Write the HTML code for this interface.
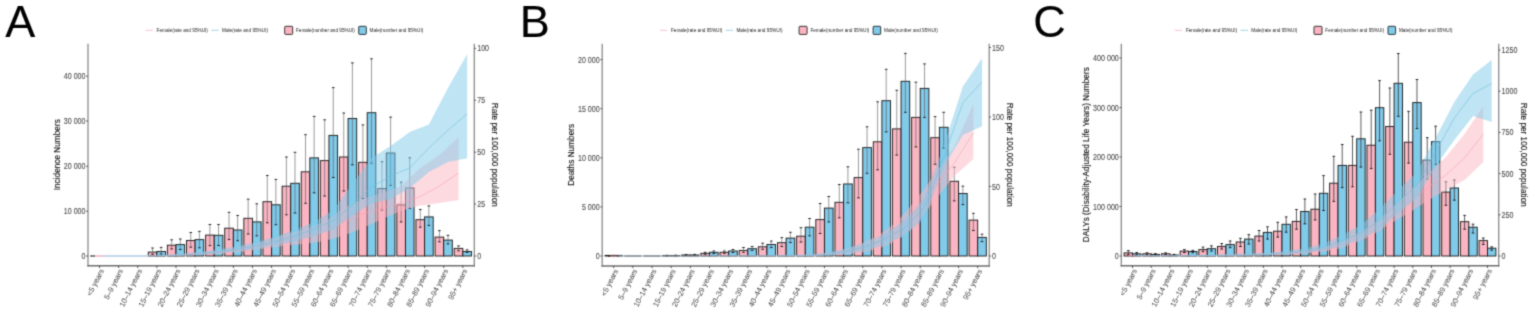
<!DOCTYPE html>
<html><head><meta charset="utf-8"><title>Incidence, deaths and DALYs by age and sex</title>
<style>
html,body{margin:0;padding:0;background:#fff;}
body{width:1535px;height:325px;overflow:hidden;}
svg{display:block;font-family:'Liberation Sans', sans-serif;}
#wrap{width:1535px;height:325px;}
.big{fill:#000;stroke:#000;stroke-width:0.12px;}
.lg{fill:#1a1a1a;}
.tk{fill:#4a4a4a;stroke:#4a4a4a;stroke-width:0.1px;}
.xl{fill:#4d4d4d;stroke:#4d4d4d;stroke-width:0.04px;}
.tt{fill:#111;stroke:#111;stroke-width:0.12px;}
</style></head>
<body>
<div id="wrap">
<svg width="1535" height="325" viewBox="0 0 1535 325">
<defs><filter id="soft" x="0" y="0" width="1" height="1" filterUnits="objectBoundingBox" color-interpolation-filters="sRGB"><feConvolveMatrix order="3" kernelMatrix="0.0277 0.1110 0.0277 0.1110 0.4452 0.1110 0.0277 0.1110 0.0277" edgeMode="duplicate"/></filter></defs>
<g filter="url(#soft)">
<rect width="1535" height="325" fill="#fff"/>
<text class="big" x="5.3" y="37.4" font-size="45">A</text>
<line x1="145.5" x2="152.7" y1="30.3" y2="30.3" stroke="#F7A1B1" stroke-width="0.65"/>
<line x1="211.3" x2="218.8" y1="30.3" y2="30.3" stroke="#6FBFDD" stroke-width="0.65"/>
<rect x="284.7" y="26.3" width="8" height="8.1" rx="0.8" fill="#FBB5C2" stroke="#222" stroke-width="0.9"/>
<rect x="358.7" y="26.3" width="7.6" height="8.1" rx="0.8" fill="#80CAEA" stroke="#222" stroke-width="0.9"/>
<text class="lg" x="156.6" y="32.3" font-size="5.6" textLength="51.3" lengthAdjust="spacingAndGlyphs">Female(rate and 95%UI)</text>
<text class="lg" x="222" y="32.3" font-size="5.6" textLength="46.1" lengthAdjust="spacingAndGlyphs">Male(rate and 95%UI)</text>
<text class="lg" x="296" y="32.3" font-size="5.6" textLength="58.9" lengthAdjust="spacingAndGlyphs">Female(number and 95%UI)</text>
<text class="lg" x="369.6" y="32.3" font-size="5.6" textLength="53.7" lengthAdjust="spacingAndGlyphs">Male(number and 95%UI)</text>
<line x1="90.27" x2="95.17" y1="256" y2="256" stroke="#5a4550" stroke-width="1.4"/>
<rect x="148.24" y="252.1" width="8.61" height="3.9" fill="#FBB5C2" stroke="#1e1e1e" stroke-width="0.95"/>
<rect x="156.85" y="251.5" width="8.61" height="4.5" fill="#80CAEA" stroke="#1e1e1e" stroke-width="0.95"/>
<rect x="167.36" y="245.2" width="8.61" height="10.8" fill="#FBB5C2" stroke="#1e1e1e" stroke-width="0.95"/>
<rect x="175.97" y="244.6" width="8.61" height="11.4" fill="#80CAEA" stroke="#1e1e1e" stroke-width="0.95"/>
<rect x="186.49" y="240.5" width="8.61" height="15.5" fill="#FBB5C2" stroke="#1e1e1e" stroke-width="0.95"/>
<rect x="195.09" y="239.6" width="8.61" height="16.4" fill="#80CAEA" stroke="#1e1e1e" stroke-width="0.95"/>
<rect x="205.61" y="235.1" width="8.61" height="20.9" fill="#FBB5C2" stroke="#1e1e1e" stroke-width="0.95"/>
<rect x="214.22" y="235.3" width="8.61" height="20.7" fill="#80CAEA" stroke="#1e1e1e" stroke-width="0.95"/>
<rect x="224.73" y="228.2" width="8.61" height="27.8" fill="#FBB5C2" stroke="#1e1e1e" stroke-width="0.95"/>
<rect x="233.34" y="230" width="8.61" height="26" fill="#80CAEA" stroke="#1e1e1e" stroke-width="0.95"/>
<rect x="243.86" y="218.3" width="8.61" height="37.7" fill="#FBB5C2" stroke="#1e1e1e" stroke-width="0.95"/>
<rect x="252.46" y="221.9" width="8.61" height="34.1" fill="#80CAEA" stroke="#1e1e1e" stroke-width="0.95"/>
<rect x="262.98" y="201.7" width="8.61" height="54.3" fill="#FBB5C2" stroke="#1e1e1e" stroke-width="0.95"/>
<rect x="271.59" y="204.8" width="8.61" height="51.2" fill="#80CAEA" stroke="#1e1e1e" stroke-width="0.95"/>
<rect x="282.11" y="186.2" width="8.61" height="69.8" fill="#FBB5C2" stroke="#1e1e1e" stroke-width="0.95"/>
<rect x="290.71" y="183.3" width="8.61" height="72.7" fill="#80CAEA" stroke="#1e1e1e" stroke-width="0.95"/>
<rect x="301.23" y="171.8" width="8.61" height="84.2" fill="#FBB5C2" stroke="#1e1e1e" stroke-width="0.95"/>
<rect x="309.84" y="157.9" width="8.61" height="98.1" fill="#80CAEA" stroke="#1e1e1e" stroke-width="0.95"/>
<rect x="320.35" y="160.6" width="8.61" height="95.4" fill="#FBB5C2" stroke="#1e1e1e" stroke-width="0.95"/>
<rect x="328.96" y="135.4" width="8.61" height="120.6" fill="#80CAEA" stroke="#1e1e1e" stroke-width="0.95"/>
<rect x="339.48" y="157" width="8.61" height="99" fill="#FBB5C2" stroke="#1e1e1e" stroke-width="0.95"/>
<rect x="348.08" y="118.5" width="8.61" height="137.5" fill="#80CAEA" stroke="#1e1e1e" stroke-width="0.95"/>
<rect x="358.6" y="162.3" width="8.61" height="93.7" fill="#FBB5C2" stroke="#1e1e1e" stroke-width="0.95"/>
<rect x="367.21" y="112.7" width="8.61" height="143.3" fill="#80CAEA" stroke="#1e1e1e" stroke-width="0.95"/>
<rect x="377.73" y="188.6" width="8.61" height="67.4" fill="#FBB5C2" stroke="#1e1e1e" stroke-width="0.95"/>
<rect x="386.33" y="153" width="8.61" height="103" fill="#80CAEA" stroke="#1e1e1e" stroke-width="0.95"/>
<rect x="396.85" y="204.9" width="8.61" height="51.1" fill="#FBB5C2" stroke="#1e1e1e" stroke-width="0.95"/>
<rect x="405.45" y="187.9" width="8.61" height="68.1" fill="#80CAEA" stroke="#1e1e1e" stroke-width="0.95"/>
<rect x="415.97" y="219.7" width="8.61" height="36.3" fill="#FBB5C2" stroke="#1e1e1e" stroke-width="0.95"/>
<rect x="424.58" y="216.9" width="8.61" height="39.1" fill="#80CAEA" stroke="#1e1e1e" stroke-width="0.95"/>
<rect x="435.1" y="237.1" width="8.61" height="18.9" fill="#FBB5C2" stroke="#1e1e1e" stroke-width="0.95"/>
<rect x="443.7" y="240.1" width="8.61" height="15.9" fill="#80CAEA" stroke="#1e1e1e" stroke-width="0.95"/>
<rect x="454.22" y="248.4" width="8.61" height="7.6" fill="#FBB5C2" stroke="#1e1e1e" stroke-width="0.95"/>
<rect x="462.83" y="251.5" width="8.61" height="4.5" fill="#80CAEA" stroke="#1e1e1e" stroke-width="0.95"/>
<path d="M152.54 248V254.3" stroke="#555" stroke-width="0.6" fill="none"/>
<path d="M151.24 248H153.84M151.24 254.3H153.84" stroke="#111" stroke-width="0.9" fill="none"/>
<path d="M161.15 247.4V254" stroke="#555" stroke-width="0.6" fill="none"/>
<path d="M159.85 247.4H162.45M159.85 254H162.45" stroke="#111" stroke-width="0.9" fill="none"/>
<path d="M171.67 239.8V248.9" stroke="#555" stroke-width="0.6" fill="none"/>
<path d="M170.37 239.8H172.97M170.37 248.9H172.97" stroke="#111" stroke-width="0.9" fill="none"/>
<path d="M180.27 239V249.5" stroke="#555" stroke-width="0.6" fill="none"/>
<path d="M178.97 239H181.57M178.97 249.5H181.57" stroke="#111" stroke-width="0.9" fill="none"/>
<path d="M190.79 232.5V247.2" stroke="#555" stroke-width="0.6" fill="none"/>
<path d="M189.49 232.5H192.09M189.49 247.2H192.09" stroke="#111" stroke-width="0.9" fill="none"/>
<path d="M199.4 231.4V247.8" stroke="#555" stroke-width="0.6" fill="none"/>
<path d="M198.1 231.4H200.7M198.1 247.8H200.7" stroke="#111" stroke-width="0.9" fill="none"/>
<path d="M209.91 224.5V245.6" stroke="#555" stroke-width="0.6" fill="none"/>
<path d="M208.61 224.5H211.21M208.61 245.6H211.21" stroke="#111" stroke-width="0.9" fill="none"/>
<path d="M218.52 224.5V245.5" stroke="#555" stroke-width="0.6" fill="none"/>
<path d="M217.22 224.5H219.82M217.22 245.5H219.82" stroke="#111" stroke-width="0.9" fill="none"/>
<path d="M229.04 212.3V239.5" stroke="#555" stroke-width="0.6" fill="none"/>
<path d="M227.74 212.3H230.34M227.74 239.5H230.34" stroke="#111" stroke-width="0.9" fill="none"/>
<path d="M237.64 215.5V240.7" stroke="#555" stroke-width="0.6" fill="none"/>
<path d="M236.34 215.5H238.94M236.34 240.7H238.94" stroke="#111" stroke-width="0.9" fill="none"/>
<path d="M248.16 199.2V234" stroke="#555" stroke-width="0.6" fill="none"/>
<path d="M246.86 199.2H249.46M246.86 234H249.46" stroke="#111" stroke-width="0.9" fill="none"/>
<path d="M256.77 203.8V235.8" stroke="#555" stroke-width="0.6" fill="none"/>
<path d="M255.47 203.8H258.07M255.47 235.8H258.07" stroke="#111" stroke-width="0.9" fill="none"/>
<path d="M267.29 175.5V222.8" stroke="#555" stroke-width="0.6" fill="none"/>
<path d="M265.99 175.5H268.59M265.99 222.8H268.59" stroke="#111" stroke-width="0.9" fill="none"/>
<path d="M275.89 179.4V224.7" stroke="#555" stroke-width="0.6" fill="none"/>
<path d="M274.59 179.4H277.19M274.59 224.7H277.19" stroke="#111" stroke-width="0.9" fill="none"/>
<path d="M286.41 157V214.8" stroke="#555" stroke-width="0.6" fill="none"/>
<path d="M285.11 157H287.71M285.11 214.8H287.71" stroke="#111" stroke-width="0.9" fill="none"/>
<path d="M295.01 152.3V213" stroke="#555" stroke-width="0.6" fill="none"/>
<path d="M293.71 152.3H296.31M293.71 213H296.31" stroke="#111" stroke-width="0.9" fill="none"/>
<path d="M305.53 134.7V203.3" stroke="#555" stroke-width="0.6" fill="none"/>
<path d="M304.23 134.7H306.83M304.23 203.3H306.83" stroke="#111" stroke-width="0.9" fill="none"/>
<path d="M314.14 116.4V192.8" stroke="#555" stroke-width="0.6" fill="none"/>
<path d="M312.84 116.4H315.44M312.84 192.8H315.44" stroke="#111" stroke-width="0.9" fill="none"/>
<path d="M324.66 119.8V196" stroke="#555" stroke-width="0.6" fill="none"/>
<path d="M323.36 119.8H325.96M323.36 196H325.96" stroke="#111" stroke-width="0.9" fill="none"/>
<path d="M333.26 87.6V177.5" stroke="#555" stroke-width="0.6" fill="none"/>
<path d="M331.96 87.6H334.56M331.96 177.5H334.56" stroke="#111" stroke-width="0.9" fill="none"/>
<path d="M343.78 113V191" stroke="#555" stroke-width="0.6" fill="none"/>
<path d="M342.48 113H345.08M342.48 191H345.08" stroke="#111" stroke-width="0.9" fill="none"/>
<path d="M352.39 62.9V164.8" stroke="#555" stroke-width="0.6" fill="none"/>
<path d="M351.09 62.9H353.69M351.09 164.8H353.69" stroke="#111" stroke-width="0.9" fill="none"/>
<path d="M362.9 124.9V198.5" stroke="#555" stroke-width="0.6" fill="none"/>
<path d="M361.6 124.9H364.2M361.6 198.5H364.2" stroke="#111" stroke-width="0.9" fill="none"/>
<path d="M371.51 58.8V163.2" stroke="#555" stroke-width="0.6" fill="none"/>
<path d="M370.21 58.8H372.81M370.21 163.2H372.81" stroke="#111" stroke-width="0.9" fill="none"/>
<path d="M382.03 161.7V210.2" stroke="#555" stroke-width="0.6" fill="none"/>
<path d="M380.73 161.7H383.33M380.73 210.2H383.33" stroke="#111" stroke-width="0.9" fill="none"/>
<path d="M390.63 117.1V185.4" stroke="#555" stroke-width="0.6" fill="none"/>
<path d="M389.33 117.1H391.93M389.33 185.4H391.93" stroke="#111" stroke-width="0.9" fill="none"/>
<path d="M401.15 182.2V221.9" stroke="#555" stroke-width="0.6" fill="none"/>
<path d="M399.85 182.2H402.45M399.85 221.9H402.45" stroke="#111" stroke-width="0.9" fill="none"/>
<path d="M409.76 157.8V208.4" stroke="#555" stroke-width="0.6" fill="none"/>
<path d="M408.46 157.8H411.06M408.46 208.4H411.06" stroke="#111" stroke-width="0.9" fill="none"/>
<path d="M420.28 209.5V227.2" stroke="#555" stroke-width="0.6" fill="none"/>
<path d="M418.98 209.5H421.58M418.98 227.2H421.58" stroke="#111" stroke-width="0.9" fill="none"/>
<path d="M428.88 205.9V225.4" stroke="#555" stroke-width="0.6" fill="none"/>
<path d="M427.58 205.9H430.18M427.58 225.4H430.18" stroke="#111" stroke-width="0.9" fill="none"/>
<path d="M439.4 230.6V241.8" stroke="#555" stroke-width="0.6" fill="none"/>
<path d="M438.1 230.6H440.7M438.1 241.8H440.7" stroke="#111" stroke-width="0.9" fill="none"/>
<path d="M448 235.3V243.9" stroke="#555" stroke-width="0.6" fill="none"/>
<path d="M446.7 235.3H449.3M446.7 243.9H449.3" stroke="#111" stroke-width="0.9" fill="none"/>
<path d="M458.52 245.9V250.8" stroke="#555" stroke-width="0.6" fill="none"/>
<path d="M457.22 245.9H459.82M457.22 250.8H459.82" stroke="#111" stroke-width="0.9" fill="none"/>
<path d="M467.13 249.8V252.4" stroke="#555" stroke-width="0.6" fill="none"/>
<path d="M465.83 249.8H468.43M465.83 252.4H468.43" stroke="#111" stroke-width="0.9" fill="none"/>
<polygon points="95.17,256 114.3,256 133.42,256 152.54,255.5 171.67,254.6 190.79,253.2 209.91,251.5 229.04,249 248.16,245.5 267.29,240.5 286.41,234 305.53,229 324.66,222 343.78,208 362.9,199 382.03,193 401.15,186 420.28,168 439.4,155 458.52,137.3 458.52,199.9 439.4,203 420.28,205.4 401.15,211 382.03,219 362.9,228 343.78,235.5 324.66,241 305.53,243.8 286.41,245.5 267.29,248 248.16,251 229.04,253.3 209.91,254.7 190.79,255.5 171.67,255.9 152.54,256 133.42,256 114.3,256 95.17,256" fill="#FBB5C2" fill-opacity="0.5" stroke="none"/>
<polyline points="95.17,256 114.3,256 133.42,256 152.54,255.8 171.67,255.3 190.79,254.5 209.91,253.2 229.04,251.2 248.16,248.5 267.29,244.5 286.41,240 305.53,236.5 324.66,231 343.78,222 362.9,214 382.03,208 401.15,203 420.28,196.6 439.4,186 458.52,173.1" fill="none" stroke="#F7A1B1" stroke-width="0.6"/>
<polygon points="103.78,256 122.9,256 142.02,256 161.15,255.3 180.27,254 199.4,252 218.52,249.5 237.64,246 256.77,242 275.89,236.5 295.01,230 314.14,222 333.26,210 352.39,184 371.51,158 390.63,146 409.76,132 428.88,124.5 448,88 467.13,54.2 467.13,158.3 448,162 428.88,172 409.76,188 390.63,199 371.51,203.5 352.39,215.5 333.26,229.5 314.14,235.8 295.01,241.5 275.89,245.5 256.77,249.2 237.64,251.6 218.52,253.6 199.4,254.9 180.27,255.6 161.15,256 142.02,256 122.9,256 103.78,256" fill="#80CAEA" fill-opacity="0.5" stroke="none"/>
<polyline points="103.78,256 122.9,256 142.02,256 161.15,255.7 180.27,255 199.4,253.6 218.52,251.8 237.64,249.2 256.77,245.8 275.89,241.2 295.01,236 314.14,229 333.26,220.5 352.39,205 371.51,187 390.63,176 409.76,168 428.88,148 448,130 467.13,113.9" fill="none" stroke="#6FBFDD" stroke-width="0.6"/>
<line x1="95.17" x2="103.78" y1="256" y2="256" stroke="#E9BCC8" stroke-width="1.5"/>
<line x1="103.78" x2="148.24" y1="256" y2="256" stroke="#BCD9EA" stroke-width="1.5"/>
<line x1="88" x2="88" y1="43.7" y2="266.45" stroke="#8a8a8a" stroke-width="1.3"/>
<line x1="474.3" x2="474.3" y1="43.7" y2="266.45" stroke="#8a8a8a" stroke-width="1.3"/>
<line x1="87.35" x2="474.95" y1="265.8" y2="265.8" stroke="#6e6e6e" stroke-width="1.4"/>
<line x1="86.2" x2="88" y1="256" y2="256" stroke="#333" stroke-width="0.8"/>
<text class="tk" transform="translate(85.5,259) scale(0.8,1)" font-size="8.9" text-anchor="end">0</text>
<line x1="86.2" x2="88" y1="211.2" y2="211.2" stroke="#333" stroke-width="0.8"/>
<text class="tk" transform="translate(85.5,214.2) scale(0.8,1)" font-size="8.9" text-anchor="end">10 000</text>
<line x1="86.2" x2="88" y1="166.3" y2="166.3" stroke="#333" stroke-width="0.8"/>
<text class="tk" transform="translate(85.5,169.3) scale(0.8,1)" font-size="8.9" text-anchor="end">20 000</text>
<line x1="86.2" x2="88" y1="121" y2="121" stroke="#333" stroke-width="0.8"/>
<text class="tk" transform="translate(85.5,124) scale(0.8,1)" font-size="8.9" text-anchor="end">30 000</text>
<line x1="86.2" x2="88" y1="76.2" y2="76.2" stroke="#333" stroke-width="0.8"/>
<text class="tk" transform="translate(85.5,79.2) scale(0.8,1)" font-size="8.9" text-anchor="end">40 000</text>
<line x1="474.3" x2="476.1" y1="256" y2="256" stroke="#333" stroke-width="0.8"/>
<text class="tk" transform="translate(477.2,259) scale(0.8,1)" font-size="8.9">0</text>
<line x1="474.3" x2="476.1" y1="204.1" y2="204.1" stroke="#333" stroke-width="0.8"/>
<text class="tk" transform="translate(477.2,207.1) scale(0.8,1)" font-size="8.9">25</text>
<line x1="474.3" x2="476.1" y1="152.2" y2="152.2" stroke="#333" stroke-width="0.8"/>
<text class="tk" transform="translate(477.2,155.2) scale(0.8,1)" font-size="8.9">50</text>
<line x1="474.3" x2="476.1" y1="100.3" y2="100.3" stroke="#333" stroke-width="0.8"/>
<text class="tk" transform="translate(477.2,103.3) scale(0.8,1)" font-size="8.9">75</text>
<line x1="474.3" x2="476.1" y1="48.4" y2="48.4" stroke="#333" stroke-width="0.8"/>
<text class="tk" transform="translate(477.2,51.4) scale(0.8,1)" font-size="8.9">100</text>
<line x1="99.47" x2="99.47" y1="265.8" y2="268" stroke="#333" stroke-width="0.8"/>
<text class="xl" transform="translate(104.17,270.6) rotate(-63) scale(1.0,1)" font-size="7.5" text-anchor="end">&lt;5 years</text>
<line x1="118.6" x2="118.6" y1="265.8" y2="268" stroke="#333" stroke-width="0.8"/>
<text class="xl" transform="translate(123.3,270.6) rotate(-63) scale(1.0,1)" font-size="7.5" text-anchor="end">5–9 years</text>
<line x1="137.72" x2="137.72" y1="265.8" y2="268" stroke="#333" stroke-width="0.8"/>
<text class="xl" transform="translate(142.42,270.6) rotate(-63) scale(1.0,1)" font-size="7.5" text-anchor="end">10–14 years</text>
<line x1="156.85" x2="156.85" y1="265.8" y2="268" stroke="#333" stroke-width="0.8"/>
<text class="xl" transform="translate(161.55,270.6) rotate(-63) scale(1.0,1)" font-size="7.5" text-anchor="end">15–19 years</text>
<line x1="175.97" x2="175.97" y1="265.8" y2="268" stroke="#333" stroke-width="0.8"/>
<text class="xl" transform="translate(180.67,270.6) rotate(-63) scale(1.0,1)" font-size="7.5" text-anchor="end">20–24 years</text>
<line x1="195.09" x2="195.09" y1="265.8" y2="268" stroke="#333" stroke-width="0.8"/>
<text class="xl" transform="translate(199.79,270.6) rotate(-63) scale(1.0,1)" font-size="7.5" text-anchor="end">25–29 years</text>
<line x1="214.22" x2="214.22" y1="265.8" y2="268" stroke="#333" stroke-width="0.8"/>
<text class="xl" transform="translate(218.92,270.6) rotate(-63) scale(1.0,1)" font-size="7.5" text-anchor="end">30–34 years</text>
<line x1="233.34" x2="233.34" y1="265.8" y2="268" stroke="#333" stroke-width="0.8"/>
<text class="xl" transform="translate(238.04,270.6) rotate(-63) scale(1.0,1)" font-size="7.5" text-anchor="end">35–39 years</text>
<line x1="252.46" x2="252.46" y1="265.8" y2="268" stroke="#333" stroke-width="0.8"/>
<text class="xl" transform="translate(257.16,270.6) rotate(-63) scale(1.0,1)" font-size="7.5" text-anchor="end">40–44 years</text>
<line x1="271.59" x2="271.59" y1="265.8" y2="268" stroke="#333" stroke-width="0.8"/>
<text class="xl" transform="translate(276.29,270.6) rotate(-63) scale(1.0,1)" font-size="7.5" text-anchor="end">45–49 years</text>
<line x1="290.71" x2="290.71" y1="265.8" y2="268" stroke="#333" stroke-width="0.8"/>
<text class="xl" transform="translate(295.41,270.6) rotate(-63) scale(1.0,1)" font-size="7.5" text-anchor="end">50–54 years</text>
<line x1="309.84" x2="309.84" y1="265.8" y2="268" stroke="#333" stroke-width="0.8"/>
<text class="xl" transform="translate(314.54,270.6) rotate(-63) scale(1.0,1)" font-size="7.5" text-anchor="end">55–59 years</text>
<line x1="328.96" x2="328.96" y1="265.8" y2="268" stroke="#333" stroke-width="0.8"/>
<text class="xl" transform="translate(333.66,270.6) rotate(-63) scale(1.0,1)" font-size="7.5" text-anchor="end">60–64 years</text>
<line x1="348.08" x2="348.08" y1="265.8" y2="268" stroke="#333" stroke-width="0.8"/>
<text class="xl" transform="translate(352.78,270.6) rotate(-63) scale(1.0,1)" font-size="7.5" text-anchor="end">65–69 years</text>
<line x1="367.21" x2="367.21" y1="265.8" y2="268" stroke="#333" stroke-width="0.8"/>
<text class="xl" transform="translate(371.91,270.6) rotate(-63) scale(1.0,1)" font-size="7.5" text-anchor="end">70–74 years</text>
<line x1="386.33" x2="386.33" y1="265.8" y2="268" stroke="#333" stroke-width="0.8"/>
<text class="xl" transform="translate(391.03,270.6) rotate(-63) scale(1.0,1)" font-size="7.5" text-anchor="end">75–79 years</text>
<line x1="405.45" x2="405.45" y1="265.8" y2="268" stroke="#333" stroke-width="0.8"/>
<text class="xl" transform="translate(410.15,270.6) rotate(-63) scale(1.0,1)" font-size="7.5" text-anchor="end">80–84 years</text>
<line x1="424.58" x2="424.58" y1="265.8" y2="268" stroke="#333" stroke-width="0.8"/>
<text class="xl" transform="translate(429.28,270.6) rotate(-63) scale(1.0,1)" font-size="7.5" text-anchor="end">85–89 years</text>
<line x1="443.7" x2="443.7" y1="265.8" y2="268" stroke="#333" stroke-width="0.8"/>
<text class="xl" transform="translate(448.4,270.6) rotate(-63) scale(1.0,1)" font-size="7.5" text-anchor="end">90–94 years</text>
<line x1="462.83" x2="462.83" y1="265.8" y2="268" stroke="#333" stroke-width="0.8"/>
<text class="xl" transform="translate(467.53,270.6) rotate(-63) scale(1.0,1)" font-size="7.5" text-anchor="end">95+ years</text>
<text transform="translate(60.4,154.75) rotate(-90)" class="tt" font-size="8.25" text-anchor="middle">Incidence Numbers</text>
<text transform="translate(492.2,154.75) rotate(90)" class="tt" font-size="8.25" text-anchor="middle">Rate per 100,000 population</text>
<text class="big" x="519.8" y="37.4" font-size="45">B</text>
<line x1="659.9" x2="667.1" y1="30.3" y2="30.3" stroke="#F7A1B1" stroke-width="0.65"/>
<line x1="725.7" x2="733.2" y1="30.3" y2="30.3" stroke="#6FBFDD" stroke-width="0.65"/>
<rect x="799.1" y="26.3" width="8" height="8.1" rx="0.8" fill="#FBB5C2" stroke="#222" stroke-width="0.9"/>
<rect x="873.1" y="26.3" width="7.6" height="8.1" rx="0.8" fill="#80CAEA" stroke="#222" stroke-width="0.9"/>
<text class="lg" x="671" y="32.3" font-size="5.6" textLength="51.3" lengthAdjust="spacingAndGlyphs">Female(rate and 95%UI)</text>
<text class="lg" x="736.4" y="32.3" font-size="5.6" textLength="46.1" lengthAdjust="spacingAndGlyphs">Male(rate and 95%UI)</text>
<text class="lg" x="810.4" y="32.3" font-size="5.6" textLength="58.9" lengthAdjust="spacingAndGlyphs">Female(number and 95%UI)</text>
<text class="lg" x="884" y="32.3" font-size="5.6" textLength="53.7" lengthAdjust="spacingAndGlyphs">Male(number and 95%UI)</text>
<rect x="605.07" y="255.4" width="8.62" height="0.6" fill="#FBB5C2" stroke="#1e1e1e" stroke-width="0.95"/>
<rect x="613.7" y="255.4" width="8.62" height="0.6" fill="#80CAEA" stroke="#1e1e1e" stroke-width="0.95"/>
<line x1="624.23" x2="632.85" y1="256" y2="256" stroke="#2a2a2a" stroke-width="1.1"/>
<line x1="632.85" x2="641.47" y1="256" y2="256" stroke="#2a2a2a" stroke-width="1.1"/>
<line x1="643.39" x2="652.01" y1="256" y2="256" stroke="#2a2a2a" stroke-width="1.1"/>
<line x1="652.01" x2="660.63" y1="256" y2="256" stroke="#2a2a2a" stroke-width="1.1"/>
<rect x="662.55" y="255.5" width="8.62" height="0.5" fill="#FBB5C2" stroke="#1e1e1e" stroke-width="0.95"/>
<rect x="671.17" y="255.5" width="8.62" height="0.5" fill="#80CAEA" stroke="#1e1e1e" stroke-width="0.95"/>
<rect x="681.71" y="255" width="8.62" height="1" fill="#FBB5C2" stroke="#1e1e1e" stroke-width="0.95"/>
<rect x="690.33" y="255" width="8.62" height="1" fill="#80CAEA" stroke="#1e1e1e" stroke-width="0.95"/>
<rect x="700.87" y="253.3" width="8.62" height="2.7" fill="#FBB5C2" stroke="#1e1e1e" stroke-width="0.95"/>
<rect x="709.49" y="252.3" width="8.62" height="3.7" fill="#80CAEA" stroke="#1e1e1e" stroke-width="0.95"/>
<rect x="720.02" y="252.3" width="8.62" height="3.7" fill="#FBB5C2" stroke="#1e1e1e" stroke-width="0.95"/>
<rect x="728.65" y="251" width="8.62" height="5" fill="#80CAEA" stroke="#1e1e1e" stroke-width="0.95"/>
<rect x="739.18" y="250.4" width="8.62" height="5.6" fill="#FBB5C2" stroke="#1e1e1e" stroke-width="0.95"/>
<rect x="747.8" y="248.7" width="8.62" height="7.3" fill="#80CAEA" stroke="#1e1e1e" stroke-width="0.95"/>
<rect x="758.34" y="246.8" width="8.62" height="9.2" fill="#FBB5C2" stroke="#1e1e1e" stroke-width="0.95"/>
<rect x="766.96" y="244.5" width="8.62" height="11.5" fill="#80CAEA" stroke="#1e1e1e" stroke-width="0.95"/>
<rect x="777.5" y="242.7" width="8.62" height="13.3" fill="#FBB5C2" stroke="#1e1e1e" stroke-width="0.95"/>
<rect x="786.12" y="238.1" width="8.62" height="17.9" fill="#80CAEA" stroke="#1e1e1e" stroke-width="0.95"/>
<rect x="796.66" y="236.2" width="8.62" height="19.8" fill="#FBB5C2" stroke="#1e1e1e" stroke-width="0.95"/>
<rect x="805.28" y="227.2" width="8.62" height="28.8" fill="#80CAEA" stroke="#1e1e1e" stroke-width="0.95"/>
<rect x="815.82" y="219.6" width="8.62" height="36.4" fill="#FBB5C2" stroke="#1e1e1e" stroke-width="0.95"/>
<rect x="824.44" y="208.1" width="8.62" height="47.9" fill="#80CAEA" stroke="#1e1e1e" stroke-width="0.95"/>
<rect x="834.97" y="202.3" width="8.62" height="53.7" fill="#FBB5C2" stroke="#1e1e1e" stroke-width="0.95"/>
<rect x="843.6" y="184" width="8.62" height="72" fill="#80CAEA" stroke="#1e1e1e" stroke-width="0.95"/>
<rect x="854.13" y="177.6" width="8.62" height="78.4" fill="#FBB5C2" stroke="#1e1e1e" stroke-width="0.95"/>
<rect x="862.75" y="147.6" width="8.62" height="108.4" fill="#80CAEA" stroke="#1e1e1e" stroke-width="0.95"/>
<rect x="873.29" y="141.8" width="8.62" height="114.2" fill="#FBB5C2" stroke="#1e1e1e" stroke-width="0.95"/>
<rect x="881.91" y="100.7" width="8.62" height="155.3" fill="#80CAEA" stroke="#1e1e1e" stroke-width="0.95"/>
<rect x="892.45" y="128.9" width="8.62" height="127.1" fill="#FBB5C2" stroke="#1e1e1e" stroke-width="0.95"/>
<rect x="901.07" y="81.3" width="8.62" height="174.7" fill="#80CAEA" stroke="#1e1e1e" stroke-width="0.95"/>
<rect x="911.61" y="117.4" width="8.62" height="138.6" fill="#FBB5C2" stroke="#1e1e1e" stroke-width="0.95"/>
<rect x="920.23" y="88.4" width="8.62" height="167.6" fill="#80CAEA" stroke="#1e1e1e" stroke-width="0.95"/>
<rect x="930.77" y="137.7" width="8.62" height="118.3" fill="#FBB5C2" stroke="#1e1e1e" stroke-width="0.95"/>
<rect x="939.39" y="127.3" width="8.62" height="128.7" fill="#80CAEA" stroke="#1e1e1e" stroke-width="0.95"/>
<rect x="949.93" y="181.3" width="8.62" height="74.7" fill="#FBB5C2" stroke="#1e1e1e" stroke-width="0.95"/>
<rect x="958.55" y="193.5" width="8.62" height="62.5" fill="#80CAEA" stroke="#1e1e1e" stroke-width="0.95"/>
<rect x="969.08" y="220.1" width="8.62" height="35.9" fill="#FBB5C2" stroke="#1e1e1e" stroke-width="0.95"/>
<rect x="977.7" y="237.4" width="8.62" height="18.6" fill="#80CAEA" stroke="#1e1e1e" stroke-width="0.95"/>
<path d="M609.38 255.7V256" stroke="#555" stroke-width="0.6" fill="none"/>
<path d="M608.08 255.7H610.68M608.08 256H610.68" stroke="#111" stroke-width="0.9" fill="none"/>
<path d="M618.01 255.7V256" stroke="#555" stroke-width="0.6" fill="none"/>
<path d="M616.71 255.7H619.31M616.71 256H619.31" stroke="#111" stroke-width="0.9" fill="none"/>
<path d="M666.86 255.3V256" stroke="#555" stroke-width="0.6" fill="none"/>
<path d="M665.56 255.3H668.16M665.56 256H668.16" stroke="#111" stroke-width="0.9" fill="none"/>
<path d="M675.48 255.2V256" stroke="#555" stroke-width="0.6" fill="none"/>
<path d="M674.18 255.2H676.78M674.18 256H676.78" stroke="#111" stroke-width="0.9" fill="none"/>
<path d="M686.02 254.5V255.5" stroke="#555" stroke-width="0.6" fill="none"/>
<path d="M684.72 254.5H687.32M684.72 255.5H687.32" stroke="#111" stroke-width="0.9" fill="none"/>
<path d="M694.64 254.4V255.5" stroke="#555" stroke-width="0.6" fill="none"/>
<path d="M693.34 254.4H695.94M693.34 255.5H695.94" stroke="#111" stroke-width="0.9" fill="none"/>
<path d="M705.18 252.3V254.2" stroke="#555" stroke-width="0.6" fill="none"/>
<path d="M703.88 252.3H706.48M703.88 254.2H706.48" stroke="#111" stroke-width="0.9" fill="none"/>
<path d="M713.8 251V253.5" stroke="#555" stroke-width="0.6" fill="none"/>
<path d="M712.5 251H715.1M712.5 253.5H715.1" stroke="#111" stroke-width="0.9" fill="none"/>
<path d="M724.33 251V253.3" stroke="#555" stroke-width="0.6" fill="none"/>
<path d="M723.03 251H725.63M723.03 253.3H725.63" stroke="#111" stroke-width="0.9" fill="none"/>
<path d="M732.96 249.5V252.5" stroke="#555" stroke-width="0.6" fill="none"/>
<path d="M731.66 249.5H734.26M731.66 252.5H734.26" stroke="#111" stroke-width="0.9" fill="none"/>
<path d="M743.49 247.5V252.3" stroke="#555" stroke-width="0.6" fill="none"/>
<path d="M742.19 247.5H744.79M742.19 252.3H744.79" stroke="#111" stroke-width="0.9" fill="none"/>
<path d="M752.11 246.5V250.3" stroke="#555" stroke-width="0.6" fill="none"/>
<path d="M750.81 246.5H753.41M750.81 250.3H753.41" stroke="#111" stroke-width="0.9" fill="none"/>
<path d="M762.65 243.2V249.3" stroke="#555" stroke-width="0.6" fill="none"/>
<path d="M761.35 243.2H763.95M761.35 249.3H763.95" stroke="#111" stroke-width="0.9" fill="none"/>
<path d="M771.27 241.1V247.5" stroke="#555" stroke-width="0.6" fill="none"/>
<path d="M769.97 241.1H772.57M769.97 247.5H772.57" stroke="#111" stroke-width="0.9" fill="none"/>
<path d="M781.81 237.6V246.5" stroke="#555" stroke-width="0.6" fill="none"/>
<path d="M780.51 237.6H783.11M780.51 246.5H783.11" stroke="#111" stroke-width="0.9" fill="none"/>
<path d="M790.43 232.3V242.5" stroke="#555" stroke-width="0.6" fill="none"/>
<path d="M789.13 232.3H791.73M789.13 242.5H791.73" stroke="#111" stroke-width="0.9" fill="none"/>
<path d="M800.97 227.7V242" stroke="#555" stroke-width="0.6" fill="none"/>
<path d="M799.67 227.7H802.27M799.67 242H802.27" stroke="#111" stroke-width="0.9" fill="none"/>
<path d="M809.59 218.5V235.8" stroke="#555" stroke-width="0.6" fill="none"/>
<path d="M808.29 218.5H810.89M808.29 235.8H810.89" stroke="#111" stroke-width="0.9" fill="none"/>
<path d="M820.13 203.5V233.5" stroke="#555" stroke-width="0.6" fill="none"/>
<path d="M818.83 203.5H821.43M818.83 233.5H821.43" stroke="#111" stroke-width="0.9" fill="none"/>
<path d="M828.75 196.5V221.9" stroke="#555" stroke-width="0.6" fill="none"/>
<path d="M827.45 196.5H830.05M827.45 221.9H830.05" stroke="#111" stroke-width="0.9" fill="none"/>
<path d="M839.29 184.5V217.8" stroke="#555" stroke-width="0.6" fill="none"/>
<path d="M837.99 184.5H840.59M837.99 217.8H840.59" stroke="#111" stroke-width="0.9" fill="none"/>
<path d="M847.91 166.8V202.8" stroke="#555" stroke-width="0.6" fill="none"/>
<path d="M846.61 166.8H849.21M846.61 202.8H849.21" stroke="#111" stroke-width="0.9" fill="none"/>
<path d="M858.44 149.2V197.8" stroke="#555" stroke-width="0.6" fill="none"/>
<path d="M857.14 149.2H859.74M857.14 197.8H859.74" stroke="#111" stroke-width="0.9" fill="none"/>
<path d="M867.07 126.8V173.3" stroke="#555" stroke-width="0.6" fill="none"/>
<path d="M865.77 126.8H868.37M865.77 173.3H868.37" stroke="#111" stroke-width="0.9" fill="none"/>
<path d="M877.6 101.8V169.8" stroke="#555" stroke-width="0.6" fill="none"/>
<path d="M876.3 101.8H878.9M876.3 169.8H878.9" stroke="#111" stroke-width="0.9" fill="none"/>
<path d="M886.22 69.3V131.9" stroke="#555" stroke-width="0.6" fill="none"/>
<path d="M884.92 69.3H887.52M884.92 131.9H887.52" stroke="#111" stroke-width="0.9" fill="none"/>
<path d="M896.76 90.3V155" stroke="#555" stroke-width="0.6" fill="none"/>
<path d="M895.46 90.3H898.06M895.46 155H898.06" stroke="#111" stroke-width="0.9" fill="none"/>
<path d="M905.38 53.4V112.3" stroke="#555" stroke-width="0.6" fill="none"/>
<path d="M904.08 53.4H906.68M904.08 112.3H906.68" stroke="#111" stroke-width="0.9" fill="none"/>
<path d="M915.92 82.2V146.9" stroke="#555" stroke-width="0.6" fill="none"/>
<path d="M914.62 82.2H917.22M914.62 146.9H917.22" stroke="#111" stroke-width="0.9" fill="none"/>
<path d="M924.54 63.9V117.4" stroke="#555" stroke-width="0.6" fill="none"/>
<path d="M923.24 63.9H925.84M923.24 117.4H925.84" stroke="#111" stroke-width="0.9" fill="none"/>
<path d="M935.08 116.6V164.2" stroke="#555" stroke-width="0.6" fill="none"/>
<path d="M933.78 116.6H936.38M933.78 164.2H936.38" stroke="#111" stroke-width="0.9" fill="none"/>
<path d="M943.7 112.3V148.1" stroke="#555" stroke-width="0.6" fill="none"/>
<path d="M942.4 112.3H945M942.4 148.1H945" stroke="#111" stroke-width="0.9" fill="none"/>
<path d="M954.24 167.2V200.9" stroke="#555" stroke-width="0.6" fill="none"/>
<path d="M952.94 167.2H955.54M952.94 200.9H955.54" stroke="#111" stroke-width="0.9" fill="none"/>
<path d="M962.86 186.2V204.6" stroke="#555" stroke-width="0.6" fill="none"/>
<path d="M961.56 186.2H964.16M961.56 204.6H964.16" stroke="#111" stroke-width="0.9" fill="none"/>
<path d="M973.39 213.3V230.5" stroke="#555" stroke-width="0.6" fill="none"/>
<path d="M972.09 213.3H974.69M972.09 230.5H974.69" stroke="#111" stroke-width="0.9" fill="none"/>
<path d="M982.02 234.2V241.6" stroke="#555" stroke-width="0.6" fill="none"/>
<path d="M980.72 234.2H983.32M980.72 241.6H983.32" stroke="#111" stroke-width="0.9" fill="none"/>
<polygon points="609.38,256 628.54,256 647.7,256 666.86,256 686.02,256 705.18,255.9 724.33,255.8 743.49,255.7 762.65,255.6 781.81,255.4 800.97,255 820.13,253.8 839.29,251 858.44,245 877.6,236 896.76,222 915.92,200 935.08,174 954.24,147 973.39,104 973.39,159 954.24,176 935.08,200 915.92,225 896.76,241 877.6,249 858.44,253.5 839.29,255 820.13,255.8 800.97,256 781.81,256 762.65,256 743.49,256 724.33,256 705.18,256 686.02,256 666.86,256 647.7,256 628.54,256 609.38,256" fill="#FBB5C2" fill-opacity="0.5" stroke="none"/>
<polyline points="609.38,256 628.54,256 647.7,256 666.86,256 686.02,256 705.18,256 724.33,255.9 743.49,255.85 762.65,255.8 781.81,255.7 800.97,255.5 820.13,254.8 839.29,253 858.44,249 877.6,242.5 896.76,231 915.92,212 935.08,187 954.24,163 973.39,133" fill="none" stroke="#F7A1B1" stroke-width="0.6"/>
<polygon points="618.01,256 637.16,256 656.32,256 675.48,256 694.64,256 713.8,255.9 732.96,255.8 752.11,255.7 771.27,255.6 790.43,255.4 809.59,254.8 828.75,252.5 847.91,248 867.07,242 886.22,233 905.38,220 924.54,198 943.7,146 962.86,86.5 982.02,58.2 982.02,126.2 962.86,135 943.7,167 924.54,218 905.38,235 886.22,244 867.07,250.5 847.91,254 828.75,255.6 809.59,256 790.43,256 771.27,256 752.11,256 732.96,256 713.8,256 694.64,256 675.48,256 656.32,256 637.16,256 618.01,256" fill="#80CAEA" fill-opacity="0.5" stroke="none"/>
<polyline points="618.01,256 637.16,256 656.32,256 675.48,256 694.64,256 713.8,256 732.96,255.9 752.11,255.85 771.27,255.8 790.43,255.7 809.59,255.4 828.75,254.2 847.91,251 867.07,246 886.22,238.5 905.38,227.5 924.54,207 943.7,158 962.86,102.8 982.02,81.9" fill="none" stroke="#6FBFDD" stroke-width="0.6"/>
<line x1="602.2" x2="602.2" y1="43.7" y2="266.65" stroke="#8a8a8a" stroke-width="1.3"/>
<line x1="989.2" x2="989.2" y1="43.7" y2="266.65" stroke="#8a8a8a" stroke-width="1.3"/>
<line x1="601.55" x2="989.85" y1="266" y2="266" stroke="#6e6e6e" stroke-width="1.4"/>
<line x1="600.4" x2="602.2" y1="256" y2="256" stroke="#333" stroke-width="0.8"/>
<text class="tk" transform="translate(599.7,259) scale(0.8,1)" font-size="8.9" text-anchor="end">0</text>
<line x1="600.4" x2="602.2" y1="206.9" y2="206.9" stroke="#333" stroke-width="0.8"/>
<text class="tk" transform="translate(599.7,209.9) scale(0.8,1)" font-size="8.9" text-anchor="end">5 000</text>
<line x1="600.4" x2="602.2" y1="157.8" y2="157.8" stroke="#333" stroke-width="0.8"/>
<text class="tk" transform="translate(599.7,160.8) scale(0.8,1)" font-size="8.9" text-anchor="end">10 000</text>
<line x1="600.4" x2="602.2" y1="108.7" y2="108.7" stroke="#333" stroke-width="0.8"/>
<text class="tk" transform="translate(599.7,111.7) scale(0.8,1)" font-size="8.9" text-anchor="end">15 000</text>
<line x1="600.4" x2="602.2" y1="59.6" y2="59.6" stroke="#333" stroke-width="0.8"/>
<text class="tk" transform="translate(599.7,62.6) scale(0.8,1)" font-size="8.9" text-anchor="end">20 000</text>
<line x1="989.2" x2="991" y1="256" y2="256" stroke="#333" stroke-width="0.8"/>
<text class="tk" transform="translate(992.1,259) scale(0.8,1)" font-size="8.9">0</text>
<line x1="989.2" x2="991" y1="186.5" y2="186.5" stroke="#333" stroke-width="0.8"/>
<text class="tk" transform="translate(992.1,189.5) scale(0.8,1)" font-size="8.9">50</text>
<line x1="989.2" x2="991" y1="117" y2="117" stroke="#333" stroke-width="0.8"/>
<text class="tk" transform="translate(992.1,120) scale(0.8,1)" font-size="8.9">100</text>
<line x1="989.2" x2="991" y1="47.5" y2="47.5" stroke="#333" stroke-width="0.8"/>
<text class="tk" transform="translate(992.1,50.5) scale(0.8,1)" font-size="8.9">150</text>
<line x1="613.7" x2="613.7" y1="266" y2="268.2" stroke="#333" stroke-width="0.8"/>
<text class="xl" transform="translate(618.4,270.8) rotate(-63) scale(1.0,1)" font-size="7.5" text-anchor="end">&lt;5 years</text>
<line x1="632.85" x2="632.85" y1="266" y2="268.2" stroke="#333" stroke-width="0.8"/>
<text class="xl" transform="translate(637.55,270.8) rotate(-63) scale(1.0,1)" font-size="7.5" text-anchor="end">5–9 years</text>
<line x1="652.01" x2="652.01" y1="266" y2="268.2" stroke="#333" stroke-width="0.8"/>
<text class="xl" transform="translate(656.71,270.8) rotate(-63) scale(1.0,1)" font-size="7.5" text-anchor="end">10–14 years</text>
<line x1="671.17" x2="671.17" y1="266" y2="268.2" stroke="#333" stroke-width="0.8"/>
<text class="xl" transform="translate(675.87,270.8) rotate(-63) scale(1.0,1)" font-size="7.5" text-anchor="end">15–19 years</text>
<line x1="690.33" x2="690.33" y1="266" y2="268.2" stroke="#333" stroke-width="0.8"/>
<text class="xl" transform="translate(695.03,270.8) rotate(-63) scale(1.0,1)" font-size="7.5" text-anchor="end">20–24 years</text>
<line x1="709.49" x2="709.49" y1="266" y2="268.2" stroke="#333" stroke-width="0.8"/>
<text class="xl" transform="translate(714.19,270.8) rotate(-63) scale(1.0,1)" font-size="7.5" text-anchor="end">25–29 years</text>
<line x1="728.65" x2="728.65" y1="266" y2="268.2" stroke="#333" stroke-width="0.8"/>
<text class="xl" transform="translate(733.35,270.8) rotate(-63) scale(1.0,1)" font-size="7.5" text-anchor="end">30–34 years</text>
<line x1="747.8" x2="747.8" y1="266" y2="268.2" stroke="#333" stroke-width="0.8"/>
<text class="xl" transform="translate(752.5,270.8) rotate(-63) scale(1.0,1)" font-size="7.5" text-anchor="end">35–39 years</text>
<line x1="766.96" x2="766.96" y1="266" y2="268.2" stroke="#333" stroke-width="0.8"/>
<text class="xl" transform="translate(771.66,270.8) rotate(-63) scale(1.0,1)" font-size="7.5" text-anchor="end">40–44 years</text>
<line x1="786.12" x2="786.12" y1="266" y2="268.2" stroke="#333" stroke-width="0.8"/>
<text class="xl" transform="translate(790.82,270.8) rotate(-63) scale(1.0,1)" font-size="7.5" text-anchor="end">45–49 years</text>
<line x1="805.28" x2="805.28" y1="266" y2="268.2" stroke="#333" stroke-width="0.8"/>
<text class="xl" transform="translate(809.98,270.8) rotate(-63) scale(1.0,1)" font-size="7.5" text-anchor="end">50–54 years</text>
<line x1="824.44" x2="824.44" y1="266" y2="268.2" stroke="#333" stroke-width="0.8"/>
<text class="xl" transform="translate(829.14,270.8) rotate(-63) scale(1.0,1)" font-size="7.5" text-anchor="end">55–59 years</text>
<line x1="843.6" x2="843.6" y1="266" y2="268.2" stroke="#333" stroke-width="0.8"/>
<text class="xl" transform="translate(848.3,270.8) rotate(-63) scale(1.0,1)" font-size="7.5" text-anchor="end">60–64 years</text>
<line x1="862.75" x2="862.75" y1="266" y2="268.2" stroke="#333" stroke-width="0.8"/>
<text class="xl" transform="translate(867.45,270.8) rotate(-63) scale(1.0,1)" font-size="7.5" text-anchor="end">65–69 years</text>
<line x1="881.91" x2="881.91" y1="266" y2="268.2" stroke="#333" stroke-width="0.8"/>
<text class="xl" transform="translate(886.61,270.8) rotate(-63) scale(1.0,1)" font-size="7.5" text-anchor="end">70–74 years</text>
<line x1="901.07" x2="901.07" y1="266" y2="268.2" stroke="#333" stroke-width="0.8"/>
<text class="xl" transform="translate(905.77,270.8) rotate(-63) scale(1.0,1)" font-size="7.5" text-anchor="end">75–79 years</text>
<line x1="920.23" x2="920.23" y1="266" y2="268.2" stroke="#333" stroke-width="0.8"/>
<text class="xl" transform="translate(924.93,270.8) rotate(-63) scale(1.0,1)" font-size="7.5" text-anchor="end">80–84 years</text>
<line x1="939.39" x2="939.39" y1="266" y2="268.2" stroke="#333" stroke-width="0.8"/>
<text class="xl" transform="translate(944.09,270.8) rotate(-63) scale(1.0,1)" font-size="7.5" text-anchor="end">85–89 years</text>
<line x1="958.55" x2="958.55" y1="266" y2="268.2" stroke="#333" stroke-width="0.8"/>
<text class="xl" transform="translate(963.25,270.8) rotate(-63) scale(1.0,1)" font-size="7.5" text-anchor="end">90–94 years</text>
<line x1="977.7" x2="977.7" y1="266" y2="268.2" stroke="#333" stroke-width="0.8"/>
<text class="xl" transform="translate(982.4,270.8) rotate(-63) scale(1.0,1)" font-size="7.5" text-anchor="end">95+ years</text>
<text transform="translate(574.1,154.85) rotate(-90)" class="tt" font-size="8.25" text-anchor="middle">Deaths Numbers</text>
<text transform="translate(1006.5,154.85) rotate(90)" class="tt" font-size="8.25" text-anchor="middle">Rate per 100,000 population</text>
<text class="big" x="1033.3" y="37.4" font-size="45">C</text>
<line x1="1174.8" x2="1182" y1="30.3" y2="30.3" stroke="#F7A1B1" stroke-width="0.65"/>
<line x1="1240.6" x2="1248.1" y1="30.3" y2="30.3" stroke="#6FBFDD" stroke-width="0.65"/>
<rect x="1314" y="26.3" width="8" height="8.1" rx="0.8" fill="#FBB5C2" stroke="#222" stroke-width="0.9"/>
<rect x="1388" y="26.3" width="7.6" height="8.1" rx="0.8" fill="#80CAEA" stroke="#222" stroke-width="0.9"/>
<text class="lg" x="1185.9" y="32.3" font-size="5.6" textLength="51.3" lengthAdjust="spacingAndGlyphs">Female(rate and 95%UI)</text>
<text class="lg" x="1251.3" y="32.3" font-size="5.6" textLength="46.1" lengthAdjust="spacingAndGlyphs">Male(rate and 95%UI)</text>
<text class="lg" x="1325.3" y="32.3" font-size="5.6" textLength="58.9" lengthAdjust="spacingAndGlyphs">Female(number and 95%UI)</text>
<text class="lg" x="1398.9" y="32.3" font-size="5.6" textLength="53.7" lengthAdjust="spacingAndGlyphs">Male(number and 95%UI)</text>
<rect x="1124.1" y="252.9" width="8.41" height="3.1" fill="#FBB5C2" stroke="#1e1e1e" stroke-width="0.95"/>
<rect x="1132.51" y="253.8" width="8.41" height="2.2" fill="#80CAEA" stroke="#1e1e1e" stroke-width="0.95"/>
<rect x="1142.79" y="253.8" width="8.41" height="2.2" fill="#FBB5C2" stroke="#1e1e1e" stroke-width="0.95"/>
<rect x="1151.19" y="254.4" width="8.41" height="1.6" fill="#80CAEA" stroke="#1e1e1e" stroke-width="0.95"/>
<rect x="1161.47" y="253.8" width="8.41" height="2.2" fill="#FBB5C2" stroke="#1e1e1e" stroke-width="0.95"/>
<rect x="1169.88" y="255" width="8.41" height="1" fill="#80CAEA" stroke="#1e1e1e" stroke-width="0.95"/>
<rect x="1180.15" y="251.1" width="8.41" height="4.9" fill="#FBB5C2" stroke="#1e1e1e" stroke-width="0.95"/>
<rect x="1188.56" y="251.5" width="8.41" height="4.5" fill="#80CAEA" stroke="#1e1e1e" stroke-width="0.95"/>
<rect x="1198.84" y="249.6" width="8.41" height="6.4" fill="#FBB5C2" stroke="#1e1e1e" stroke-width="0.95"/>
<rect x="1207.24" y="248.7" width="8.41" height="7.3" fill="#80CAEA" stroke="#1e1e1e" stroke-width="0.95"/>
<rect x="1217.52" y="246.4" width="8.41" height="9.6" fill="#FBB5C2" stroke="#1e1e1e" stroke-width="0.95"/>
<rect x="1225.93" y="244.6" width="8.41" height="11.4" fill="#80CAEA" stroke="#1e1e1e" stroke-width="0.95"/>
<rect x="1236.2" y="242" width="8.41" height="14" fill="#FBB5C2" stroke="#1e1e1e" stroke-width="0.95"/>
<rect x="1244.61" y="239.1" width="8.41" height="16.9" fill="#80CAEA" stroke="#1e1e1e" stroke-width="0.95"/>
<rect x="1254.88" y="236.1" width="8.41" height="19.9" fill="#FBB5C2" stroke="#1e1e1e" stroke-width="0.95"/>
<rect x="1263.29" y="232.4" width="8.41" height="23.6" fill="#80CAEA" stroke="#1e1e1e" stroke-width="0.95"/>
<rect x="1273.57" y="231.2" width="8.41" height="24.8" fill="#FBB5C2" stroke="#1e1e1e" stroke-width="0.95"/>
<rect x="1281.98" y="224.3" width="8.41" height="31.7" fill="#80CAEA" stroke="#1e1e1e" stroke-width="0.95"/>
<rect x="1292.25" y="221.4" width="8.41" height="34.6" fill="#FBB5C2" stroke="#1e1e1e" stroke-width="0.95"/>
<rect x="1300.66" y="211.5" width="8.41" height="44.5" fill="#80CAEA" stroke="#1e1e1e" stroke-width="0.95"/>
<rect x="1310.93" y="209.2" width="8.41" height="46.8" fill="#FBB5C2" stroke="#1e1e1e" stroke-width="0.95"/>
<rect x="1319.34" y="193.3" width="8.41" height="62.7" fill="#80CAEA" stroke="#1e1e1e" stroke-width="0.95"/>
<rect x="1329.62" y="183.2" width="8.41" height="72.8" fill="#FBB5C2" stroke="#1e1e1e" stroke-width="0.95"/>
<rect x="1338.02" y="165.4" width="8.41" height="90.6" fill="#80CAEA" stroke="#1e1e1e" stroke-width="0.95"/>
<rect x="1348.3" y="165.4" width="8.41" height="90.6" fill="#FBB5C2" stroke="#1e1e1e" stroke-width="0.95"/>
<rect x="1356.71" y="138.8" width="8.41" height="117.2" fill="#80CAEA" stroke="#1e1e1e" stroke-width="0.95"/>
<rect x="1366.98" y="145.2" width="8.41" height="110.8" fill="#FBB5C2" stroke="#1e1e1e" stroke-width="0.95"/>
<rect x="1375.39" y="107.7" width="8.41" height="148.3" fill="#80CAEA" stroke="#1e1e1e" stroke-width="0.95"/>
<rect x="1385.67" y="126.5" width="8.41" height="129.5" fill="#FBB5C2" stroke="#1e1e1e" stroke-width="0.95"/>
<rect x="1394.07" y="83.3" width="8.41" height="172.7" fill="#80CAEA" stroke="#1e1e1e" stroke-width="0.95"/>
<rect x="1404.35" y="142.2" width="8.41" height="113.8" fill="#FBB5C2" stroke="#1e1e1e" stroke-width="0.95"/>
<rect x="1412.76" y="102.6" width="8.41" height="153.4" fill="#80CAEA" stroke="#1e1e1e" stroke-width="0.95"/>
<rect x="1423.03" y="160.1" width="8.41" height="95.9" fill="#FBB5C2" stroke="#1e1e1e" stroke-width="0.95"/>
<rect x="1431.44" y="141.7" width="8.41" height="114.3" fill="#80CAEA" stroke="#1e1e1e" stroke-width="0.95"/>
<rect x="1441.72" y="192.1" width="8.41" height="63.9" fill="#FBB5C2" stroke="#1e1e1e" stroke-width="0.95"/>
<rect x="1450.12" y="188" width="8.41" height="68" fill="#80CAEA" stroke="#1e1e1e" stroke-width="0.95"/>
<rect x="1460.4" y="221.7" width="8.41" height="34.3" fill="#FBB5C2" stroke="#1e1e1e" stroke-width="0.95"/>
<rect x="1468.81" y="227.2" width="8.41" height="28.8" fill="#80CAEA" stroke="#1e1e1e" stroke-width="0.95"/>
<rect x="1479.08" y="240.6" width="8.41" height="15.4" fill="#FBB5C2" stroke="#1e1e1e" stroke-width="0.95"/>
<rect x="1487.49" y="248.2" width="8.41" height="7.8" fill="#80CAEA" stroke="#1e1e1e" stroke-width="0.95"/>
<path d="M1128.31 250.6V254.8" stroke="#333" stroke-width="0.8" fill="none"/>
<path d="M1127.01 250.6H1129.61M1127.01 254.8H1129.61" stroke="#111" stroke-width="0.9" fill="none"/>
<path d="M1136.71 252.5V255" stroke="#333" stroke-width="0.8" fill="none"/>
<path d="M1135.41 252.5H1138.01M1135.41 255H1138.01" stroke="#111" stroke-width="0.9" fill="none"/>
<path d="M1146.99 252.8V254.8" stroke="#333" stroke-width="0.8" fill="none"/>
<path d="M1145.69 252.8H1148.29M1145.69 254.8H1148.29" stroke="#111" stroke-width="0.9" fill="none"/>
<path d="M1155.4 253.6V255.2" stroke="#333" stroke-width="0.8" fill="none"/>
<path d="M1154.1 253.6H1156.7M1154.1 255.2H1156.7" stroke="#111" stroke-width="0.9" fill="none"/>
<path d="M1165.67 252.9V254.8" stroke="#333" stroke-width="0.8" fill="none"/>
<path d="M1164.37 252.9H1166.97M1164.37 254.8H1166.97" stroke="#111" stroke-width="0.9" fill="none"/>
<path d="M1174.08 254.4V255.5" stroke="#333" stroke-width="0.8" fill="none"/>
<path d="M1172.78 254.4H1175.38M1172.78 255.5H1175.38" stroke="#111" stroke-width="0.9" fill="none"/>
<path d="M1184.36 249.6V252.6" stroke="#333" stroke-width="0.8" fill="none"/>
<path d="M1183.06 249.6H1185.66M1183.06 252.6H1185.66" stroke="#111" stroke-width="0.9" fill="none"/>
<path d="M1192.76 250.4V252.7" stroke="#333" stroke-width="0.8" fill="none"/>
<path d="M1191.46 250.4H1194.06M1191.46 252.7H1194.06" stroke="#111" stroke-width="0.9" fill="none"/>
<path d="M1203.04 247.1V251.7" stroke="#333" stroke-width="0.8" fill="none"/>
<path d="M1201.74 247.1H1204.34M1201.74 251.7H1204.34" stroke="#111" stroke-width="0.9" fill="none"/>
<path d="M1211.45 245.8V251" stroke="#333" stroke-width="0.8" fill="none"/>
<path d="M1210.15 245.8H1212.75M1210.15 251H1212.75" stroke="#111" stroke-width="0.9" fill="none"/>
<path d="M1221.72 243.5V249" stroke="#333" stroke-width="0.8" fill="none"/>
<path d="M1220.42 243.5H1223.02M1220.42 249H1223.02" stroke="#111" stroke-width="0.9" fill="none"/>
<path d="M1230.13 241V247.6" stroke="#333" stroke-width="0.8" fill="none"/>
<path d="M1228.83 241H1231.43M1228.83 247.6H1231.43" stroke="#111" stroke-width="0.9" fill="none"/>
<path d="M1240.41 238.3V246.5" stroke="#333" stroke-width="0.8" fill="none"/>
<path d="M1239.11 238.3H1241.71M1239.11 246.5H1241.71" stroke="#111" stroke-width="0.9" fill="none"/>
<path d="M1248.81 234.6V244" stroke="#333" stroke-width="0.8" fill="none"/>
<path d="M1247.51 234.6H1250.11M1247.51 244H1250.11" stroke="#111" stroke-width="0.9" fill="none"/>
<path d="M1259.09 230.5V241" stroke="#333" stroke-width="0.8" fill="none"/>
<path d="M1257.79 230.5H1260.39M1257.79 241H1260.39" stroke="#111" stroke-width="0.9" fill="none"/>
<path d="M1267.5 226.8V239.1" stroke="#333" stroke-width="0.8" fill="none"/>
<path d="M1266.2 226.8H1268.8M1266.2 239.1H1268.8" stroke="#111" stroke-width="0.9" fill="none"/>
<path d="M1277.77 222.3V237.1" stroke="#333" stroke-width="0.8" fill="none"/>
<path d="M1276.47 222.3H1279.07M1276.47 237.1H1279.07" stroke="#111" stroke-width="0.9" fill="none"/>
<path d="M1286.18 216.9V232.2" stroke="#333" stroke-width="0.8" fill="none"/>
<path d="M1284.88 216.9H1287.48M1284.88 232.2H1287.48" stroke="#111" stroke-width="0.9" fill="none"/>
<path d="M1296.45 209.5V229.2" stroke="#333" stroke-width="0.8" fill="none"/>
<path d="M1295.15 209.5H1297.75M1295.15 229.2H1297.75" stroke="#111" stroke-width="0.9" fill="none"/>
<path d="M1304.86 199V223.8" stroke="#333" stroke-width="0.8" fill="none"/>
<path d="M1303.56 199H1306.16M1303.56 223.8H1306.16" stroke="#111" stroke-width="0.9" fill="none"/>
<path d="M1315.14 194V219.9" stroke="#333" stroke-width="0.8" fill="none"/>
<path d="M1313.84 194H1316.44M1313.84 219.9H1316.44" stroke="#111" stroke-width="0.9" fill="none"/>
<path d="M1323.55 175.6V210.5" stroke="#333" stroke-width="0.8" fill="none"/>
<path d="M1322.25 175.6H1324.85M1322.25 210.5H1324.85" stroke="#111" stroke-width="0.9" fill="none"/>
<path d="M1333.82 156.3V201.4" stroke="#333" stroke-width="0.8" fill="none"/>
<path d="M1332.52 156.3H1335.12M1332.52 201.4H1335.12" stroke="#111" stroke-width="0.9" fill="none"/>
<path d="M1342.23 144.5V187.6" stroke="#333" stroke-width="0.8" fill="none"/>
<path d="M1340.93 144.5H1343.53M1340.93 187.6H1343.53" stroke="#111" stroke-width="0.9" fill="none"/>
<path d="M1352.5 136.3V186.8" stroke="#333" stroke-width="0.8" fill="none"/>
<path d="M1351.2 136.3H1353.8M1351.2 186.8H1353.8" stroke="#111" stroke-width="0.9" fill="none"/>
<path d="M1360.91 112V167.1" stroke="#333" stroke-width="0.8" fill="none"/>
<path d="M1359.61 112H1362.21M1359.61 167.1H1362.21" stroke="#111" stroke-width="0.9" fill="none"/>
<path d="M1371.19 110.2V168.6" stroke="#333" stroke-width="0.8" fill="none"/>
<path d="M1369.89 110.2H1372.49M1369.89 168.6H1372.49" stroke="#111" stroke-width="0.9" fill="none"/>
<path d="M1379.59 80.6V140.8" stroke="#333" stroke-width="0.8" fill="none"/>
<path d="M1378.29 80.6H1380.89M1378.29 140.8H1380.89" stroke="#111" stroke-width="0.9" fill="none"/>
<path d="M1389.87 88V154.3" stroke="#333" stroke-width="0.8" fill="none"/>
<path d="M1388.57 88H1391.17M1388.57 154.3H1391.17" stroke="#111" stroke-width="0.9" fill="none"/>
<path d="M1398.28 53.5V116.3" stroke="#333" stroke-width="0.8" fill="none"/>
<path d="M1396.98 53.5H1399.58M1396.98 116.3H1399.58" stroke="#111" stroke-width="0.9" fill="none"/>
<path d="M1408.55 111.4V163.1" stroke="#333" stroke-width="0.8" fill="none"/>
<path d="M1407.25 111.4H1409.85M1407.25 163.1H1409.85" stroke="#111" stroke-width="0.9" fill="none"/>
<path d="M1416.96 79.5V128.5" stroke="#333" stroke-width="0.8" fill="none"/>
<path d="M1415.66 79.5H1418.26M1415.66 128.5H1418.26" stroke="#111" stroke-width="0.9" fill="none"/>
<path d="M1427.24 137.7V179.1" stroke="#333" stroke-width="0.8" fill="none"/>
<path d="M1425.94 137.7H1428.54M1425.94 179.1H1428.54" stroke="#111" stroke-width="0.9" fill="none"/>
<path d="M1435.64 126.2V164.3" stroke="#333" stroke-width="0.8" fill="none"/>
<path d="M1434.34 126.2H1436.94M1434.34 164.3H1436.94" stroke="#111" stroke-width="0.9" fill="none"/>
<path d="M1445.92 181.8V205.3" stroke="#333" stroke-width="0.8" fill="none"/>
<path d="M1444.62 181.8H1447.22M1444.62 205.3H1447.22" stroke="#111" stroke-width="0.9" fill="none"/>
<path d="M1454.33 179.9V200.2" stroke="#333" stroke-width="0.8" fill="none"/>
<path d="M1453.03 179.9H1455.63M1453.03 200.2H1455.63" stroke="#111" stroke-width="0.9" fill="none"/>
<path d="M1464.6 215.4V229.2" stroke="#333" stroke-width="0.8" fill="none"/>
<path d="M1463.3 215.4H1465.9M1463.3 229.2H1465.9" stroke="#111" stroke-width="0.9" fill="none"/>
<path d="M1473.01 224.2V233" stroke="#333" stroke-width="0.8" fill="none"/>
<path d="M1471.71 224.2H1474.31M1471.71 233H1474.31" stroke="#111" stroke-width="0.9" fill="none"/>
<path d="M1483.29 238V244.4" stroke="#333" stroke-width="0.8" fill="none"/>
<path d="M1481.99 238H1484.59M1481.99 244.4H1484.59" stroke="#111" stroke-width="0.9" fill="none"/>
<path d="M1491.69 246.9V250.2" stroke="#333" stroke-width="0.8" fill="none"/>
<path d="M1490.39 246.9H1492.99M1490.39 250.2H1492.99" stroke="#111" stroke-width="0.9" fill="none"/>
<polygon points="1128.31,255.4 1146.99,255.6 1165.67,255.6 1184.36,255.4 1203.04,255.1 1221.72,254.7 1240.41,254.2 1259.09,253.6 1277.77,253 1296.45,251.5 1315.14,248.5 1333.82,244.5 1352.5,236 1371.19,226 1389.87,210 1408.55,192 1427.24,175 1445.92,157 1464.6,134 1483.29,106 1483.29,162 1464.6,180 1445.92,190 1427.24,201 1408.55,213 1389.87,224 1371.19,236 1352.5,244 1333.82,250.3 1315.14,252.5 1296.45,254.2 1277.77,255 1259.09,255.4 1240.41,255.6 1221.72,255.8 1203.04,255.9 1184.36,256 1165.67,256 1146.99,256 1128.31,256" fill="#FBB5C2" fill-opacity="0.5" stroke="none"/>
<polyline points="1128.31,255.7 1146.99,255.8 1165.67,255.8 1184.36,255.7 1203.04,255.5 1221.72,255.3 1240.41,254.9 1259.09,254.5 1277.77,254 1296.45,253 1315.14,250.5 1333.82,247.5 1352.5,240 1371.19,231 1389.87,217 1408.55,202 1427.24,188 1445.92,175 1464.6,158 1483.29,134" fill="none" stroke="#F7A1B1" stroke-width="0.6"/>
<polygon points="1136.71,255.2 1155.4,255.5 1174.08,255.5 1192.76,255.3 1211.45,255 1230.13,254.5 1248.81,253.8 1267.5,252.8 1286.18,251 1304.86,248.5 1323.55,243.5 1342.23,235 1360.91,225 1379.59,209 1398.28,190 1416.96,172 1435.64,138 1454.33,102 1473.01,74.5 1491.69,60 1491.69,122 1473.01,116 1454.33,140 1435.64,166 1416.96,198 1398.28,213 1379.59,229 1360.91,239.5 1342.23,246 1323.55,250.5 1304.86,253 1286.18,254.5 1267.5,255.3 1248.81,255.6 1230.13,255.8 1211.45,255.9 1192.76,256 1174.08,256 1155.4,256 1136.71,256" fill="#80CAEA" fill-opacity="0.5" stroke="none"/>
<polyline points="1136.71,255.6 1155.4,255.8 1174.08,255.8 1192.76,255.7 1211.45,255.5 1230.13,255.2 1248.81,254.8 1267.5,254.2 1286.18,253 1304.86,251 1323.55,247.5 1342.23,241 1360.91,233 1379.59,220 1398.28,202 1416.96,185 1435.64,152 1454.33,118 1473.01,93.5 1491.69,83.5" fill="none" stroke="#6FBFDD" stroke-width="0.6"/>
<line x1="1121.3" x2="1121.3" y1="43.7" y2="266.45" stroke="#8a8a8a" stroke-width="1.3"/>
<line x1="1498.7" x2="1498.7" y1="43.7" y2="266.45" stroke="#8a8a8a" stroke-width="1.3"/>
<line x1="1120.65" x2="1499.35" y1="265.8" y2="265.8" stroke="#6e6e6e" stroke-width="1.4"/>
<line x1="1119.5" x2="1121.3" y1="256" y2="256" stroke="#333" stroke-width="0.8"/>
<text class="tk" transform="translate(1118.8,259) scale(0.8,1)" font-size="8.9" text-anchor="end">0</text>
<line x1="1119.5" x2="1121.3" y1="206.5" y2="206.5" stroke="#333" stroke-width="0.8"/>
<text class="tk" transform="translate(1118.8,209.5) scale(0.8,1)" font-size="8.9" text-anchor="end">100 000</text>
<line x1="1119.5" x2="1121.3" y1="157" y2="157" stroke="#333" stroke-width="0.8"/>
<text class="tk" transform="translate(1118.8,160) scale(0.8,1)" font-size="8.9" text-anchor="end">200 000</text>
<line x1="1119.5" x2="1121.3" y1="107.5" y2="107.5" stroke="#333" stroke-width="0.8"/>
<text class="tk" transform="translate(1118.8,110.5) scale(0.8,1)" font-size="8.9" text-anchor="end">300 000</text>
<line x1="1119.5" x2="1121.3" y1="58" y2="58" stroke="#333" stroke-width="0.8"/>
<text class="tk" transform="translate(1118.8,61) scale(0.8,1)" font-size="8.9" text-anchor="end">400 000</text>
<line x1="1498.7" x2="1500.5" y1="256" y2="256" stroke="#333" stroke-width="0.8"/>
<text class="tk" transform="translate(1501.6,259) scale(0.8,1)" font-size="8.9">0</text>
<line x1="1498.7" x2="1500.5" y1="214.8" y2="214.8" stroke="#333" stroke-width="0.8"/>
<text class="tk" transform="translate(1501.6,217.8) scale(0.8,1)" font-size="8.9">250</text>
<line x1="1498.7" x2="1500.5" y1="173.6" y2="173.6" stroke="#333" stroke-width="0.8"/>
<text class="tk" transform="translate(1501.6,176.6) scale(0.8,1)" font-size="8.9">500</text>
<line x1="1498.7" x2="1500.5" y1="132.4" y2="132.4" stroke="#333" stroke-width="0.8"/>
<text class="tk" transform="translate(1501.6,135.4) scale(0.8,1)" font-size="8.9">750</text>
<line x1="1498.7" x2="1500.5" y1="91.2" y2="91.2" stroke="#333" stroke-width="0.8"/>
<text class="tk" transform="translate(1501.6,94.2) scale(0.8,1)" font-size="8.9">1000</text>
<line x1="1498.7" x2="1500.5" y1="50" y2="50" stroke="#333" stroke-width="0.8"/>
<text class="tk" transform="translate(1501.6,53) scale(0.8,1)" font-size="8.9">1250</text>
<line x1="1132.51" x2="1132.51" y1="265.8" y2="268" stroke="#333" stroke-width="0.8"/>
<text class="xl" transform="translate(1137.21,270.6) rotate(-63) scale(1.0,1)" font-size="7.5" text-anchor="end">&lt;5 years</text>
<line x1="1151.19" x2="1151.19" y1="265.8" y2="268" stroke="#333" stroke-width="0.8"/>
<text class="xl" transform="translate(1155.89,270.6) rotate(-63) scale(1.0,1)" font-size="7.5" text-anchor="end">5–9 years</text>
<line x1="1169.88" x2="1169.88" y1="265.8" y2="268" stroke="#333" stroke-width="0.8"/>
<text class="xl" transform="translate(1174.58,270.6) rotate(-63) scale(1.0,1)" font-size="7.5" text-anchor="end">10–14 years</text>
<line x1="1188.56" x2="1188.56" y1="265.8" y2="268" stroke="#333" stroke-width="0.8"/>
<text class="xl" transform="translate(1193.26,270.6) rotate(-63) scale(1.0,1)" font-size="7.5" text-anchor="end">15–19 years</text>
<line x1="1207.24" x2="1207.24" y1="265.8" y2="268" stroke="#333" stroke-width="0.8"/>
<text class="xl" transform="translate(1211.94,270.6) rotate(-63) scale(1.0,1)" font-size="7.5" text-anchor="end">20–24 years</text>
<line x1="1225.93" x2="1225.93" y1="265.8" y2="268" stroke="#333" stroke-width="0.8"/>
<text class="xl" transform="translate(1230.63,270.6) rotate(-63) scale(1.0,1)" font-size="7.5" text-anchor="end">25–29 years</text>
<line x1="1244.61" x2="1244.61" y1="265.8" y2="268" stroke="#333" stroke-width="0.8"/>
<text class="xl" transform="translate(1249.31,270.6) rotate(-63) scale(1.0,1)" font-size="7.5" text-anchor="end">30–34 years</text>
<line x1="1263.29" x2="1263.29" y1="265.8" y2="268" stroke="#333" stroke-width="0.8"/>
<text class="xl" transform="translate(1267.99,270.6) rotate(-63) scale(1.0,1)" font-size="7.5" text-anchor="end">35–39 years</text>
<line x1="1281.98" x2="1281.98" y1="265.8" y2="268" stroke="#333" stroke-width="0.8"/>
<text class="xl" transform="translate(1286.68,270.6) rotate(-63) scale(1.0,1)" font-size="7.5" text-anchor="end">40–44 years</text>
<line x1="1300.66" x2="1300.66" y1="265.8" y2="268" stroke="#333" stroke-width="0.8"/>
<text class="xl" transform="translate(1305.36,270.6) rotate(-63) scale(1.0,1)" font-size="7.5" text-anchor="end">45–49 years</text>
<line x1="1319.34" x2="1319.34" y1="265.8" y2="268" stroke="#333" stroke-width="0.8"/>
<text class="xl" transform="translate(1324.04,270.6) rotate(-63) scale(1.0,1)" font-size="7.5" text-anchor="end">50–54 years</text>
<line x1="1338.02" x2="1338.02" y1="265.8" y2="268" stroke="#333" stroke-width="0.8"/>
<text class="xl" transform="translate(1342.72,270.6) rotate(-63) scale(1.0,1)" font-size="7.5" text-anchor="end">55–59 years</text>
<line x1="1356.71" x2="1356.71" y1="265.8" y2="268" stroke="#333" stroke-width="0.8"/>
<text class="xl" transform="translate(1361.41,270.6) rotate(-63) scale(1.0,1)" font-size="7.5" text-anchor="end">60–64 years</text>
<line x1="1375.39" x2="1375.39" y1="265.8" y2="268" stroke="#333" stroke-width="0.8"/>
<text class="xl" transform="translate(1380.09,270.6) rotate(-63) scale(1.0,1)" font-size="7.5" text-anchor="end">65–69 years</text>
<line x1="1394.07" x2="1394.07" y1="265.8" y2="268" stroke="#333" stroke-width="0.8"/>
<text class="xl" transform="translate(1398.77,270.6) rotate(-63) scale(1.0,1)" font-size="7.5" text-anchor="end">70–74 years</text>
<line x1="1412.76" x2="1412.76" y1="265.8" y2="268" stroke="#333" stroke-width="0.8"/>
<text class="xl" transform="translate(1417.46,270.6) rotate(-63) scale(1.0,1)" font-size="7.5" text-anchor="end">75–79 years</text>
<line x1="1431.44" x2="1431.44" y1="265.8" y2="268" stroke="#333" stroke-width="0.8"/>
<text class="xl" transform="translate(1436.14,270.6) rotate(-63) scale(1.0,1)" font-size="7.5" text-anchor="end">80–84 years</text>
<line x1="1450.12" x2="1450.12" y1="265.8" y2="268" stroke="#333" stroke-width="0.8"/>
<text class="xl" transform="translate(1454.82,270.6) rotate(-63) scale(1.0,1)" font-size="7.5" text-anchor="end">85–89 years</text>
<line x1="1468.81" x2="1468.81" y1="265.8" y2="268" stroke="#333" stroke-width="0.8"/>
<text class="xl" transform="translate(1473.51,270.6) rotate(-63) scale(1.0,1)" font-size="7.5" text-anchor="end">90–94 years</text>
<line x1="1487.49" x2="1487.49" y1="265.8" y2="268" stroke="#333" stroke-width="0.8"/>
<text class="xl" transform="translate(1492.19,270.6) rotate(-63) scale(1.0,1)" font-size="7.5" text-anchor="end">95+ years</text>
<text transform="translate(1089.4,154.75) rotate(-90)" class="tt" font-size="8.25" text-anchor="middle">DALYs (Disability-Adjusted Life Years) Numbers</text>
<text transform="translate(1521,154.75) rotate(90)" class="tt" font-size="8.25" text-anchor="middle">Rate per 100,000 population</text>
</g>
</svg>
</div>
</body></html>
